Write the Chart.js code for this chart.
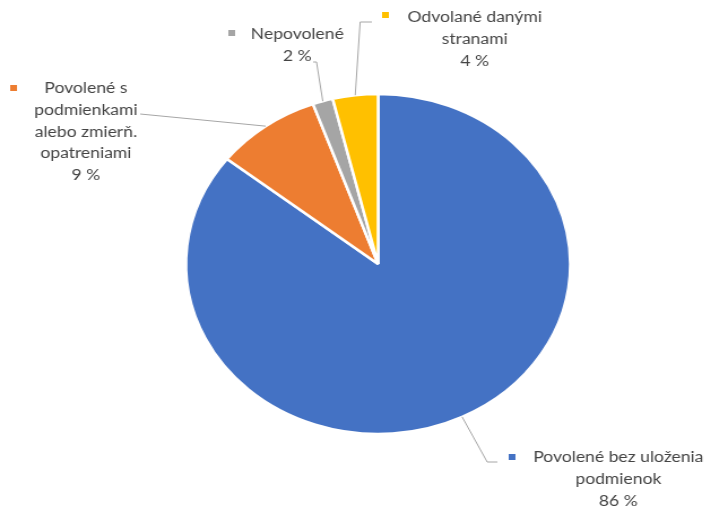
<!DOCTYPE html>
<html>
<head>
<meta charset="utf-8">
<script src="https://cdn.jsdelivr.net/npm/chart.js@4/dist/chart.umd.min.js"></script>
<style>
  html, body { margin: 0; padding: 0; background: #fff; overflow: hidden; }
  #wrap { width: 629px; height: 507px; transform: scaleX(1.1304); transform-origin: 0 0; }
</style>
</head>
<body>
<div id="wrap"><canvas id="pie" width="629" height="507"></canvas></div>
<script>
// slices, clockwise from 12 o'clock
const categories = [
  "Povolené bez uloženia\npodmienok",
  "Povolené s\npodmienkami\nalebo zmierň.\nopatreniami",
  "Nepovolené",
  "Odvolané danými\nstranami"
];
const shares = [85.6, 8.9, 1.7, 3.8];
const sliceColors = ["#4472C4", "#ED7D31", "#A5A5A5", "#FFC000"];

// where each data label sits (text centre x, first line y, key square, leader bend points)
const labelSpots = [
  { cx: 547, y: 457, key: [453, 457], bends: [[431, 462], [440, 462]] },
  { cx: 76, y: 88, key: [12, 88], bends: [[124, 114]] },
  { cx: 263, y: 34, key: [205, 33], bends: [[280, 62], [277, 62]] },
  { cx: 420, y: 17, key: [341, 15], bends: [[318.6, 22], [329, 22]] }
];

const outsideLabels = {
  id: "outsideLabels",
  afterDatasetsDraw(chart) {
    const ctx = chart.ctx;
    const meta = chart.getDatasetMeta(0);
    ctx.save();
    meta.data.forEach((arc, i) => {
      const p = arc.getProps(["x", "y", "startAngle", "endAngle", "outerRadius"], true);
      const mid = (p.startAngle + p.endAngle) / 2;
      const ax = p.x + Math.cos(mid) * p.outerRadius;
      const ay = p.y + Math.sin(mid) * p.outerRadius;
      const spot = labelSpots[i];

      //leader line from slice edge to the label
      ctx.strokeStyle = "#A6A6A6";
      ctx.lineWidth = 1;
      ctx.beginPath();
      ctx.moveTo(ax, ay);
      spot.bends.forEach(b => ctx.lineTo(b[0], b[1]));
      ctx.stroke();

      //legend key square
      ctx.fillStyle = sliceColors[i];
      ctx.fillRect(spot.key[0] - 3, spot.key[1] - 3, 6, 6);

      //text lines
      const lines = categories[i].split("\n");
      lines.push(Math.round(shares[i]) + " %");
      ctx.fillStyle = "#444444";
      ctx.font = "15.5px Lato";
      ctx.textAlign = "center";
      ctx.textBaseline = "middle";
      lines.forEach((t, k) => ctx.fillText(t, spot.cx, spot.y + k * 21.8));
    });
    ctx.restore();
  }
};

new Chart(document.getElementById("pie"), {
  type: "pie",
  data: {
    labels: categories,
    datasets: [{
      data: shares,
      backgroundColor: sliceColors,
      borderColor: "#FFFFFF",
      borderWidth: 2.5
    }]
  },
  options: {
    responsive: false,
    animation: false,
    radius: 170,
    layout: { padding: { left: 164, right: 124, top: 94, bottom: 73 } },
    plugins: {
      legend: { display: false },
      tooltip: { enabled: false }
    }
  },
  plugins: [outsideLabels]
});
</script>
</body>
</html>
